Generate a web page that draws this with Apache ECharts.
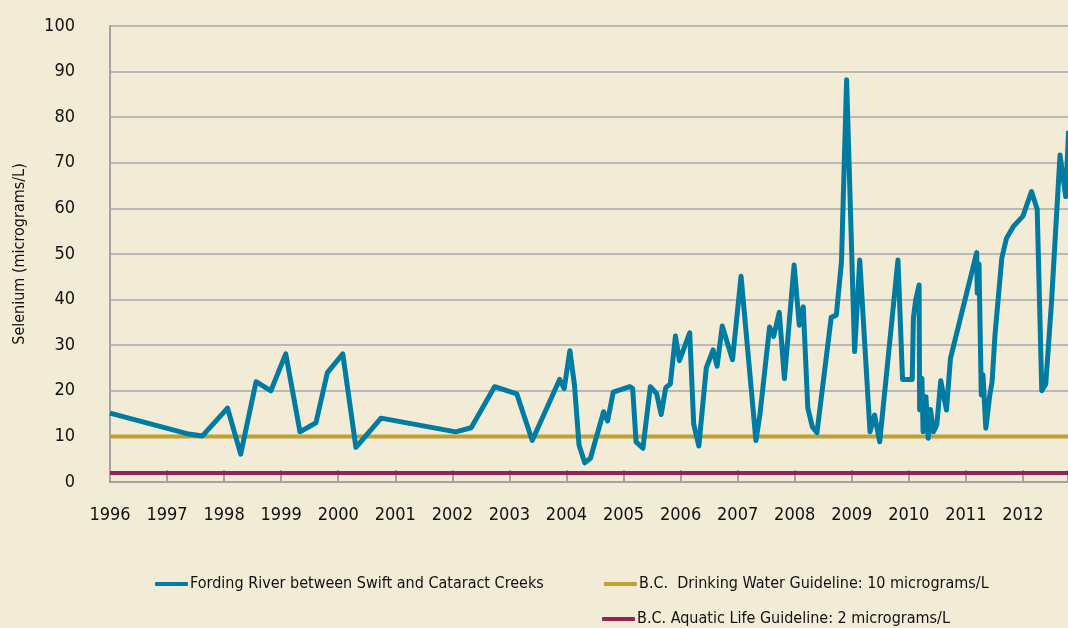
<!DOCTYPE html>
<html>
<head>
<meta charset="utf-8">
<script src="https://cdn.jsdelivr.net/npm/echarts@6/dist/echarts.min.js"></script>
<style>
html,body{margin:0;padding:0;background:#F2EBD5;}
#c{width:1068px;height:628px;}
</style>
</head>
<body>
<div id="c"></div>
<script>
// Sample dates (decimal years) and selenium values (micrograms/L)
const sampleYears = [
  1996.00, 1997.35, 1997.62, 1998.06, 1998.29, 1998.56, 1998.82, 1999.08, 1999.33, 1999.61,
  1999.81, 2000.08, 2000.31, 2000.75, 2002.06, 2002.33, 2002.74, 2003.13, 2003.40, 2003.88,
  2003.96, 2004.06, 2004.14, 2004.22, 2004.32, 2004.42, 2004.65, 2004.72, 2004.82, 2005.11,
  2005.16, 2005.22, 2005.34, 2005.47, 2005.58, 2005.66, 2005.74, 2005.82, 2005.91, 2005.98,
  2006.16, 2006.23, 2006.32, 2006.45, 2006.57, 2006.64, 2006.73, 2006.91, 2007.06, 2007.32,
  2007.39, 2007.56, 2007.63, 2007.73, 2007.82, 2007.99, 2008.08, 2008.15, 2008.23, 2008.31,
  2008.39, 2008.64, 2008.73, 2008.82, 2008.91, 2009.05, 2009.14, 2009.32, 2009.40, 2009.49,
  2009.81, 2009.89, 2010.06, 2010.08, 2010.12, 2010.18, 2010.19, 2010.23, 2010.25, 2010.30,
  2010.34, 2010.38, 2010.43, 2010.49, 2010.56, 2010.66, 2010.73, 2011.19, 2011.20, 2011.23,
  2011.27, 2011.30, 2011.35, 2011.42, 2011.46, 2011.51, 2011.63, 2011.71, 2011.83, 2012.00,
  2012.15, 2012.25, 2012.33, 2012.40, 2012.50, 2012.65, 2012.75, 2012.80
];
const seleniumValues = [
  15.1, 10.6, 10.1, 16.2, 6.1, 22.0, 20.0, 28.1, 11.0, 13.0,
  24.0, 28.1, 7.6, 14.0, 11.0, 11.9, 20.9, 19.3, 9.1, 22.5,
  20.5, 28.8, 21.3, 8.1, 4.2, 5.2, 15.4, 13.4, 19.7, 20.9,
  20.5, 8.8, 7.4, 20.9, 19.4, 14.8, 20.7, 21.5, 32.0, 26.6,
  32.7, 12.7, 7.9, 25.0, 29.0, 25.4, 34.2, 26.8, 45.1, 9.1,
  14.7, 34.0, 31.9, 37.2, 22.7, 47.6, 34.4, 38.4, 16.2, 12.1,
  10.8, 36.1, 36.6, 48.3, 88.2, 28.6, 48.7, 11.0, 14.7, 8.8,
  48.7, 22.5, 22.5, 35.9, 39.9, 43.2, 15.8, 22.7, 11.0, 18.7,
  9.6, 15.9, 11.0, 12.5, 22.2, 15.8, 27.1, 50.3, 41.4, 47.8,
  19.1, 23.5, 11.8, 19.1, 22.0, 32.2, 49.1, 53.4, 56.0, 58.3,
  63.7, 59.8, 20.0, 21.5, 39.2, 71.7, 62.6, 77.0
];
const drinkingGuideline = 10;
const aquaticGuideline = 2;
const xStart = 1996, xEnd = 2012.79;
const yTicks = [0, 100, 10];

const seriesNames = [
  'Fording River between Swift and Cataract Creeks',
  'B.C.  Drinking Water Guideline: 10 micrograms/L',
  'B.C. Aquatic Life Guideline: 2 micrograms/L'
];
const colors = ['#007BA1', '#BEA033', '#8E2457'];

const FONT = '"DejaVu Sans Condensed", "Liberation Sans Narrow", sans-serif';

const mainData = sampleYears.map((y, i) => [y, seleniumValues[i]]);
const drinkData = [[xStart, drinkingGuideline], [2014, drinkingGuideline]];
const aquaData = [[xStart, aquaticGuideline], [2014, aquaticGuideline]];

function legendFor(i, left, top) {
  return {
    data: [seriesNames[i]],
    left: left, top: top,
    padding: 0,
    itemWidth: 33, itemHeight: 4,
    icon: 'roundRect',
    selectedMode: false,
    textStyle: { fontFamily: FONT, fontSize: 16, color: '#111', padding: [0, 0, 0, -3] }
  };
}

const chart = echarts.init(document.getElementById('c'));
chart.setOption({
  backgroundColor: '#F2EBD5',
  animation: false,
  grid: { left: 110, right: 0, top: 26, bottom: 146, containLabel: false, outerBoundsMode: 'none' },
  legend: [
    legendFor(0, 155, 576),
    legendFor(1, 604, 576),
    legendFor(2, 602, 611)
  ],
  xAxis: {
    type: 'value',
    min: xStart, max: xEnd, interval: 1,
    axisLine: { show: true, lineStyle: { color: '#A3A3A3', width: 2 } },
    axisTick: { show: true, inside: true, length: 12, lineStyle: { color: '#A3A3A3', width: 2 } },
    splitLine: { show: false },
    axisLabel: {
      margin: 24,
      fontFamily: FONT, fontSize: 18, color: '#111',
      formatter: v => (Math.abs(v - Math.round(v)) < 1e-6 ? String(Math.round(v)) : '')
    }
  },
  yAxis: {
    type: 'value',
    min: yTicks[0], max: yTicks[1], interval: yTicks[2],
    name: 'Selenium (micrograms/L)',
    nameLocation: 'middle',
    nameGap: 82,
    nameTextStyle: { fontFamily: FONT, fontSize: 16, color: '#111' },
    axisLine: { show: true, lineStyle: { color: '#A3A3A3', width: 2 } },
    axisTick: { show: false },
    splitLine: { show: true, lineStyle: { color: '#A8A8A8', width: 1.5 } },
    axisLabel: { margin: 35, fontFamily: FONT, fontSize: 18, color: '#111' }
  },
  series: [
    {
      name: seriesNames[1], type: 'line', data: drinkData, showSymbol: false,
      lineStyle: { color: colors[1], width: 4 }, itemStyle: { color: colors[1] }, z: 2
    },
    {
      name: seriesNames[2], type: 'line', data: aquaData, showSymbol: false,
      lineStyle: { color: colors[2], width: 4 }, itemStyle: { color: colors[2] }, z: 2
    },
    {
      name: seriesNames[0], type: 'line', data: mainData, showSymbol: false,
      lineStyle: { color: colors[0], width: 5, join: 'round' }, itemStyle: { color: colors[0] }, z: 3
    }
  ]
});
</script>
</body>
</html>
